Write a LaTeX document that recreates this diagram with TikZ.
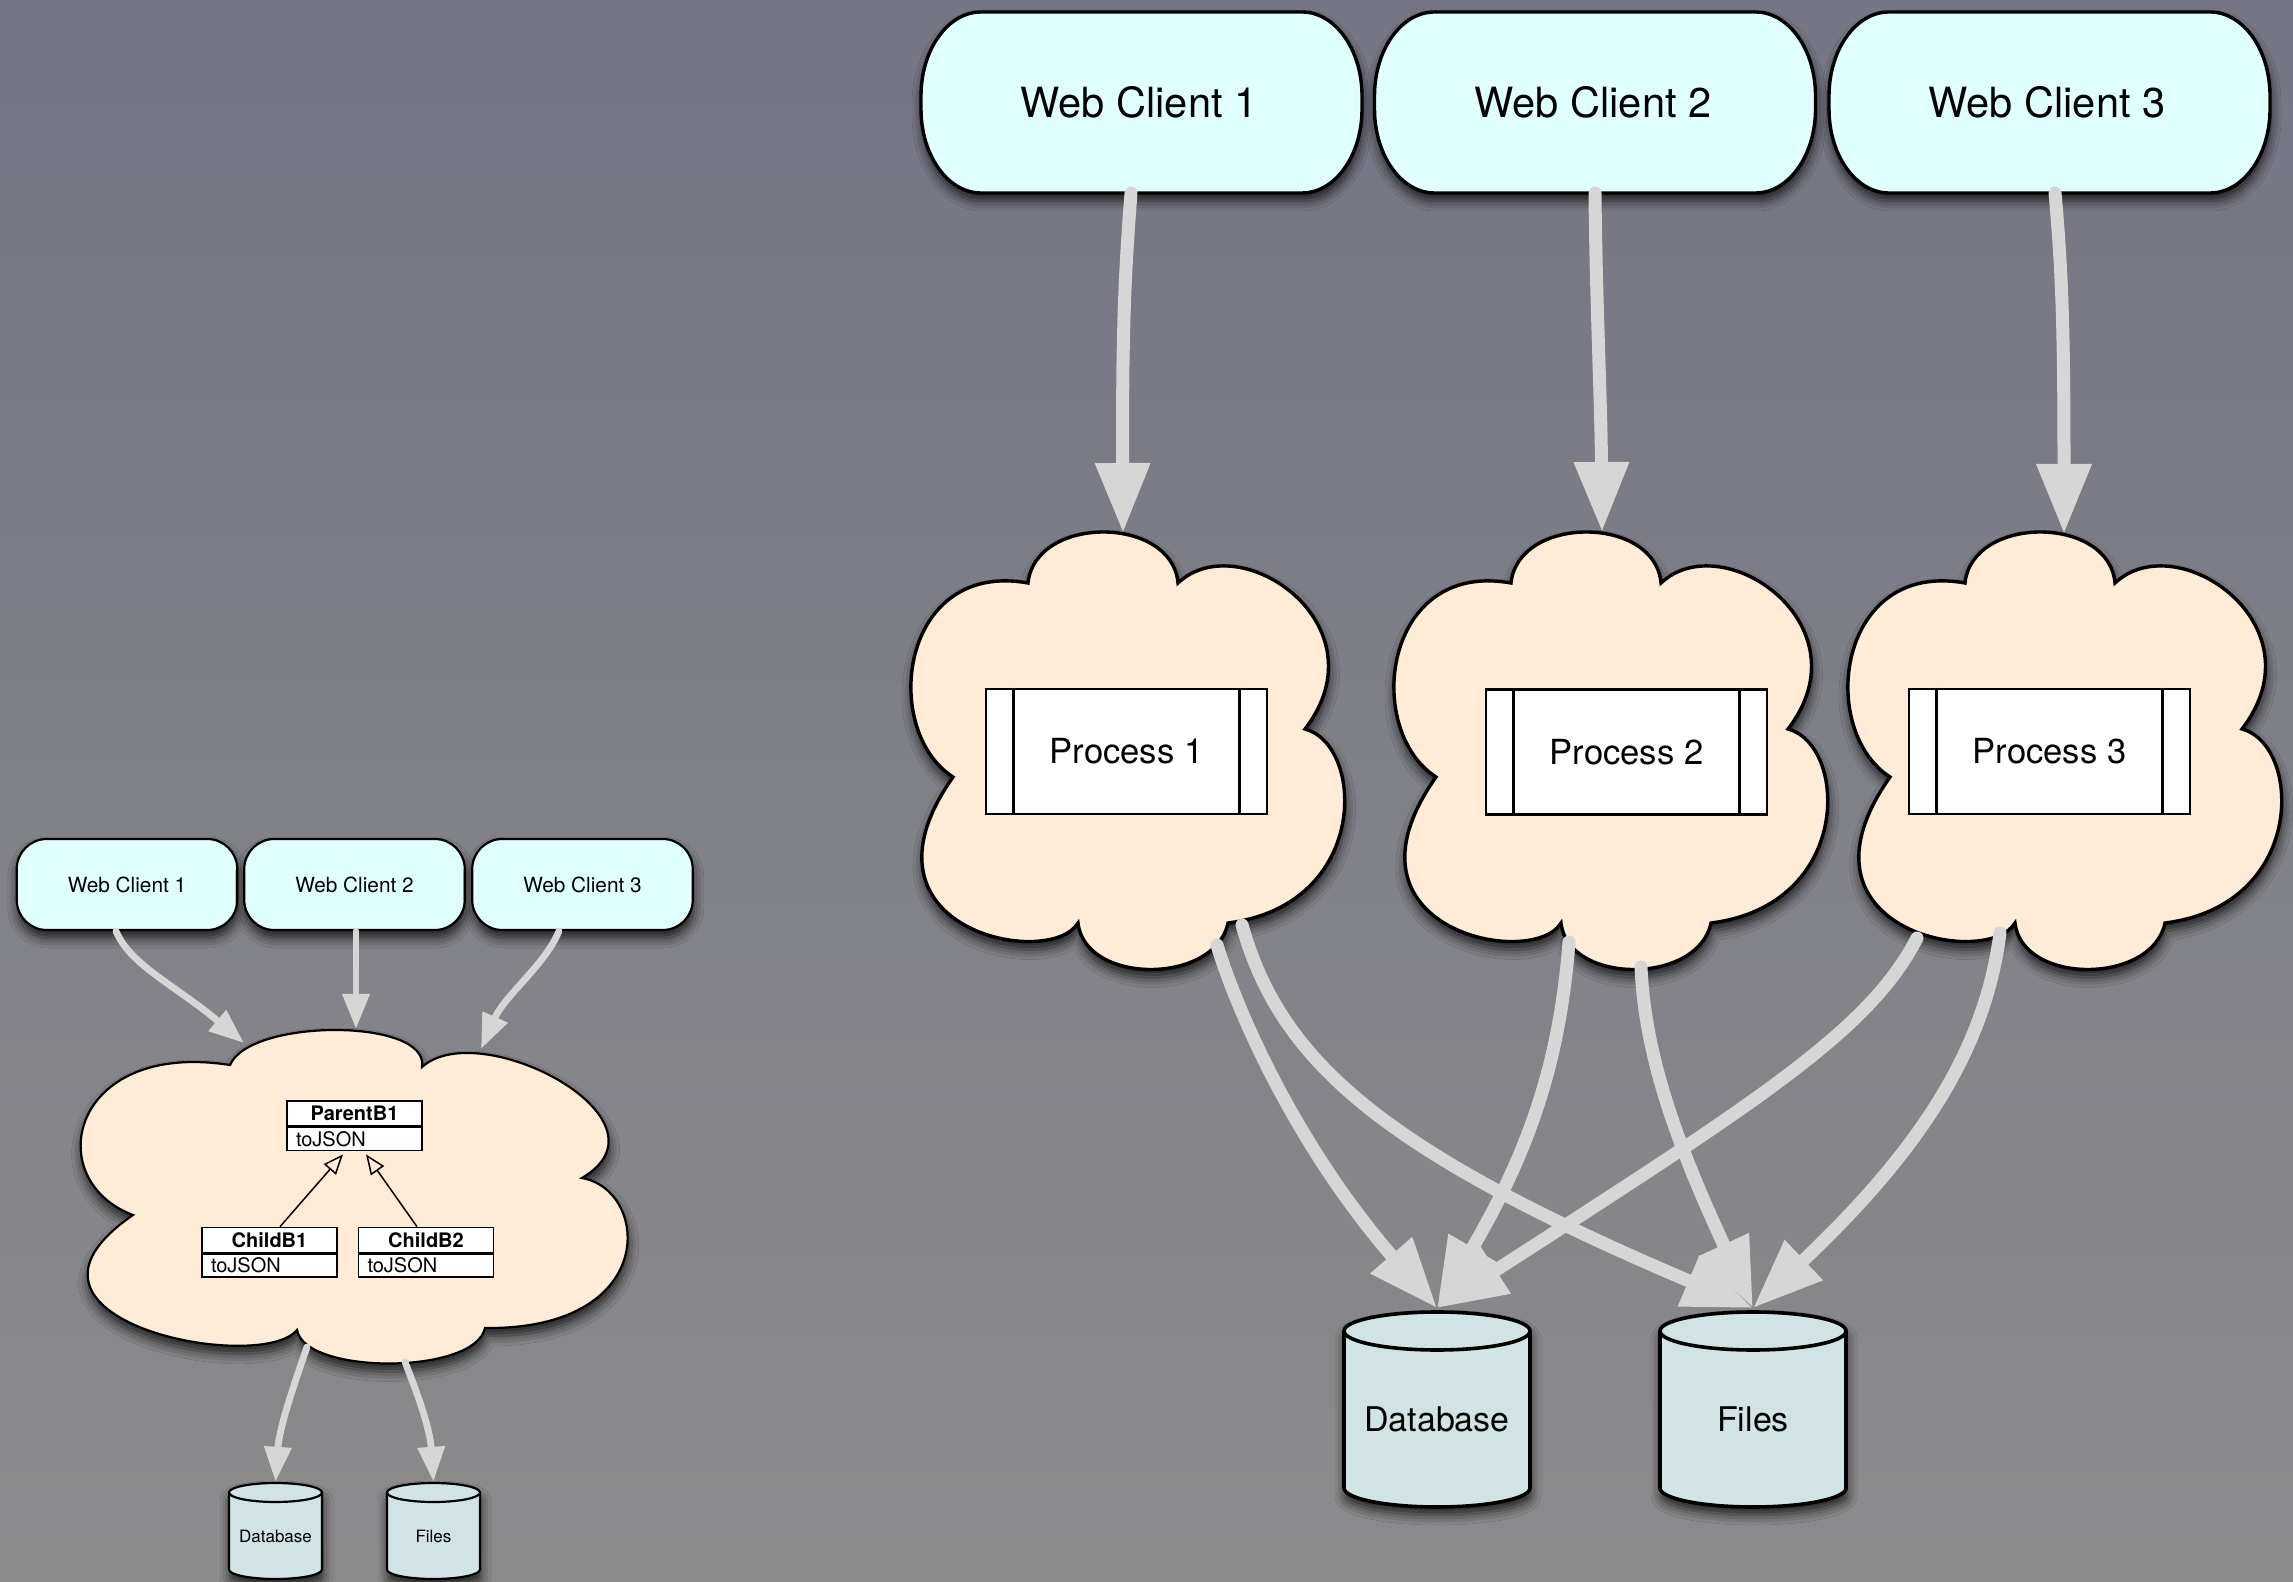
\documentclass[tikz,border=0pt]{standalone}
\usepackage{fontspec}
\setmainfont{TeX Gyre Heros}
\usetikzlibrary{arrows.meta,shadows.blur}
\definecolor{bgtop}{RGB}{117,117,132}
\definecolor{bgbot}{RGB}{139,139,140}
\definecolor{wcfill}{RGB}{224,255,255}
\definecolor{cloudfill}{RGB}{255,235,214}
\definecolor{cylfill}{RGB}{208,227,229}
\definecolor{arrowgray}{RGB}{214,214,214}
\tikzset{
  shadowed/.style={blur shadow={shadow xshift=0.5pt, shadow yshift=-4pt, shadow blur radius=5pt, shadow opacity=75}},
  bigwc/.style={outer sep=0pt, minimum width=220.5pt, minimum height=90.5pt, font=\fontsize{20.8}{24}\selectfont},
  pillbody/.style={shadowed, draw, line width=1.7pt, fill=wcfill},
  smallwc/.style={shadowed, draw, line width=1.1pt, fill=wcfill, rounded corners=15pt, minimum width=110.25pt, minimum height=45.5pt, font=\fontsize{10.4}{12}\selectfont},
  cloudbody/.style={shadowed, draw, fill=cloudfill},
  procbox/.style={draw, line width=1.4pt, fill=white, minimum width=140.5pt, minimum height=62.5pt, font=\fontsize{17.3}{20}\selectfont},
  cylbody/.style={shadowed, draw, fill=cylfill},
  biglabel/.style={minimum width=93pt, minimum height=88pt, inner sep=0pt, font=\fontsize{17}{20}\selectfont},
  smalllabel/.style={minimum width=46.5pt, minimum height=43.25pt, inner sep=0pt, font=\fontsize{8.5}{10}\selectfont},
  umlhead/.style={draw, line width=0.8pt, fill=white, minimum width=67.5pt, minimum height=12.5pt, inner sep=0pt, font=\bfseries\fontsize{10}{12}\selectfont},
  umlbody/.style={draw, line width=0.8pt, fill=white, minimum height=11.5pt, inner ysep=0pt, inner xsep=4.5pt, text width=58.5pt, align=left, font=\fontsize{10}{12}\selectfont},
  inherit/.style={draw=black, line width=0.75pt, -{Triangle[open, length=10pt, width=8pt]}},
  bigarrow/.style={draw=arrowgray, line width=6.5pt, line cap=round, -{Triangle[length=35pt, width=26pt]}},
  smallarrow/.style={draw=arrowgray, line width=3.4pt, line cap=round, -{Triangle[length=17.5pt, width=13pt]}},
}
% left x, right x, top ellipse centre y, bottom ellipse centre y, rx, ry
\newcommand{\cylshape}[6]{%
  \path[cylbody] (#1,#3) -- (#1,#4) arc[start angle=180, end angle=360, x radius=#5, y radius=#6]
    -- (#2,#3) arc[start angle=0, end angle=180, x radius=#5, y radius=#6] -- cycle;
  \draw (#1,#3) arc[start angle=180, end angle=360, x radius=#5, y radius=#6];
}
% pill outline with elliptical corners: left, right, top, bottom (px)
\newcommand{\pillshape}[4]{%
  \path[pillbody]
    ({#1+60},#3) -- ({#2-60},#3)
    arc[start angle=90, end angle=0, x radius=30pt, y radius=42pt]
    -- (#2,{#4-84})
    arc[start angle=0, end angle=-90, x radius=30pt, y radius=42pt]
    -- ({#1+60},#4)
    arc[start angle=270, end angle=180, x radius=30pt, y radius=42pt]
    -- (#1,{#3+84})
    arc[start angle=180, end angle=90, x radius=30pt, y radius=42pt] -- cycle;}
\newcommand{\bigcloudpath}{%
  (1028,583) .. controls (1035,515) and (1172,515) .. (1178,583)
  .. controls (1240,525) and (1385,625) .. (1305,729)
  .. controls (1365,745) and (1370,905) .. (1228,923)
  .. controls (1215,985) and (1085,985) .. (1078,923)
  .. controls (1050,970) and (845,930) .. (953,777)
  .. controls (880,730) and (900,560) .. (1028,583) -- cycle}
\begin{document}
\begin{tikzpicture}[x=0.5pt, y=-0.5pt]
\useasboundingbox (0,0) rectangle (2293,1582);
\shade[top color=bgtop, bottom color=bgbot] (0,0) rectangle (2293,1582);

% ---------------- big diagram ----------------
\path[cloudbody, line width=1.7pt] \bigcloudpath;
\begin{scope}[shift={(483,0)}]
  \path[cloudbody, line width=1.7pt] \bigcloudpath;
\end{scope}
\begin{scope}[shift={(937,0)}]
  \path[cloudbody, line width=1.7pt] \bigcloudpath;
\end{scope}

\node[procbox] (p1) at (1126.5,751.5) {Process 1};
\node[procbox] (p2) at (1626.5,752) {Process 2};
\node[procbox] (p3) at (2049.5,751.5) {Process 3};
\foreach \p in {p1,p2,p3}{
  \draw[line width=1.4pt] ([xshift=14.5pt]\p.north west) -- ([xshift=14.5pt]\p.south west);
  \draw[line width=1.4pt] ([xshift=-14.5pt]\p.north east) -- ([xshift=-14.5pt]\p.south east);
}

\pillshape{921}{1362}{12}{193}
\pillshape{1374.5}{1815.5}{12}{193}
\pillshape{1829}{2270}{12}{193}
\node[bigwc] (bw1) at (1139,102.5) {Web Client 1};
\node[bigwc] (bw2) at (1593,102.5) {Web Client 2};
\node[bigwc] (bw3) at (2047,102.5) {Web Client 3};

\begin{scope}[line width=1.8pt]
  \cylshape{1344}{1530}{1331}{1488}{46.5pt}{9.5pt}
  \cylshape{1660}{1846}{1331}{1488}{46.5pt}{9.5pt}
\end{scope}
\node[biglabel] (bdb) at (1437,1419.5) {Database};
\node[biglabel] (bfl) at (1753,1419.5) {Files};

\coordinate (c1in) at (1123,533);
\coordinate (c2in) at (1602,532);
\coordinate (c3in) at (2064,534);
\coordinate (c1a) at (1217,945);
\coordinate (c1b) at (1242,925);
\coordinate (c2a) at (1569,942);
\coordinate (c2b) at (1641,967);
\coordinate (c3a) at (1917,938);
\coordinate (c3b) at (2000,933);

\draw[bigarrow] ([xshift=-4pt]bw1.south) .. controls (1125,270) and (1122,330) .. (c1in);
\draw[bigarrow] ([xshift=1pt]bw2.south) .. controls (1596,300) and (1601,400) .. (c2in);
\draw[bigarrow] ([xshift=4pt]bw3.south) .. controls (2062,270) and (2064,330) .. (c3in);

\draw[bigarrow] (c1a) .. controls (1240,1020) and (1300,1150) .. ([yshift=11.5pt]bdb.north);
\draw[bigarrow] (c1b) .. controls (1280,1060) and (1380,1150) .. ([yshift=11.5pt]bfl.north);
\draw[bigarrow] (c2a) .. controls (1560,1060) and (1530,1150) .. ([yshift=11.5pt]bdb.north);
\draw[bigarrow] (c2b) .. controls (1645,1060) and (1680,1150) .. ([yshift=11.5pt]bfl.north);
\draw[bigarrow] (c3a) .. controls (1870,1030) and (1760,1100) .. ([yshift=11.5pt]bdb.north);
\draw[bigarrow] (c3b) .. controls (1985,1050) and (1920,1150) .. ([yshift=11.5pt]bfl.north);

% ---------------- small diagram ----------------
\path[cloudbody, line width=1.1pt]
  (230,1065) .. controls (250,1018) and (430,1018) .. (422,1067)
  .. controls (480,1015) and (680,1120) .. (582,1178)
  .. controls (650,1190) and (660,1330) .. (485,1328)
  .. controls (475,1375) and (305,1375) .. (297,1330)
  .. controls (260,1375) and (-20,1320) .. (133,1215)
  .. controls (40,1180) and (70,1040) .. (230,1065) -- cycle;

\node[umlhead] (pbh) at (354.5,1113.5) {ParentB1};
\node[umlbody, anchor=north] (pbb) at (pbh.south) {toJSON};
\node[umlhead] (cb1h) at (269.5,1240) {ChildB1};
\node[umlbody, anchor=north] (cb1b) at (cb1h.south) {toJSON};
\node[umlhead] (cb2h) at (426,1240) {ChildB2};
\node[umlbody, anchor=north] (cb2b) at (cb2h.south) {toJSON};
\draw[inherit] ([xshift=5.25pt]cb1h.north) -- ([xshift=-5.75pt, yshift=-1.5pt]pbb.south);
\draw[inherit] ([xshift=-4.5pt]cb2h.north) -- ([xshift=5.75pt, yshift=-1.5pt]pbb.south);

\node[smallwc] (sw1) at (127,884.5) {Web Client 1};
\node[smallwc] (sw2) at (354.5,884.5) {Web Client 2};
\node[smallwc] (sw3) at (582.5,884.5) {Web Client 3};

\begin{scope}[line width=1.1pt]
  \cylshape{229}{322}{1492.5}{1569.5}{23.25pt}{4.75pt}
  \cylshape{387}{480}{1492.5}{1569.5}{23.25pt}{4.75pt}
\end{scope}
\node[smalllabel] (sdb) at (275.5,1536) {Database};
\node[smalllabel] (sfl) at (433.5,1536) {Files};

\coordinate (scin1) at (244,1043);
\coordinate (scin2) at (356,1029);
\coordinate (scin3) at (481,1049);
\coordinate (sca) at (307,1347);
\coordinate (scb) at (405,1362);

\draw[smallarrow] ([xshift=-5.5pt]sw1.south) .. controls (130,965) and (175,985) .. (scin1);
\draw[smallarrow] ([xshift=0.75pt]sw2.south) -- (scin2);
\draw[smallarrow] ([xshift=-11.75pt]sw3.south) .. controls (545,965) and (505,995) .. (scin3);
\draw[smallarrow] (sca) .. controls (292,1390) and (279,1430) .. ([yshift=5.25pt]sdb.north);
\draw[smallarrow] (scb) .. controls (420,1400) and (430,1430) .. ([yshift=5.25pt]sfl.north);
\end{tikzpicture}
\end{document}
